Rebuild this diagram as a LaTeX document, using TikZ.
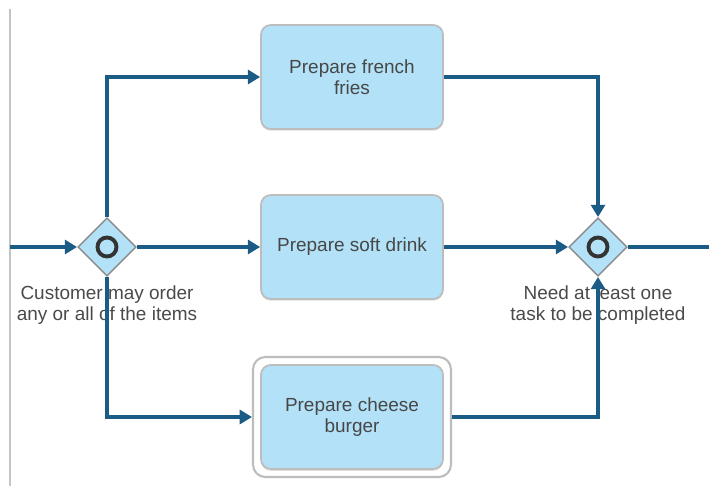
\documentclass[tikz,border=0pt]{standalone}
\usepackage{fontspec}
\setmainfont{Liberation Sans}
\usetikzlibrary{shapes.geometric,arrows.meta,positioning,shadows}

\definecolor{flowblue}{HTML}{1A5C86}
\definecolor{taskfill}{HTML}{B3E2F8}
\definecolor{taskline}{HTML}{BDBDBD}
\definecolor{gateline}{HTML}{8A8A8A}
\definecolor{notetext}{HTML}{4A4A4A}
\definecolor{edgegrey}{HTML}{C4C4C4}

\tikzset{
  task/.style={draw=taskline,line width=1pt,fill=taskfill,rounded corners=5.5pt,
    minimum width=3.64cm,minimum height=2.08cm,align=center,text=black!72,
    font=\fontsize{10.8}{12}\selectfont,
    drop shadow={shadow xshift=0pt,shadow yshift=-1pt,opacity=.25}},
  taskframe/.style={draw=taskline,line width=1.2pt,fill=white,rounded corners=7pt,
    minimum width=3.96cm,minimum height=2.4cm},
  gateway/.style={diamond,draw=gateline,line width=0.8pt,fill=taskfill,
    minimum width=1.17cm,minimum height=1.17cm,inner sep=0pt},
  gatering/.style={draw=black!80,line width=2.2pt},
  flow/.style={draw=flowblue,line width=1.8pt,-{Triangle[length=7pt,width=8pt]}},
  flowline/.style={draw=flowblue,line width=1.8pt},
  note/.style={align=center,text=notetext,font=\fontsize{10.8}{12}\selectfont}
}

\begin{document}
\begin{tikzpicture}[x=0.02cm,y=-0.02cm]
  \useasboundingbox (0,0) rectangle (709,486);
  \draw[edgegrey,line width=0.6pt] (10,9) -- (10,486);

  % gateways
  \node[gateway] (split) at (107,247) {};
  \node[gateway] (join) at (598,247) {};
  \draw[gatering] (split) circle[radius=0.19cm];
  \draw[gatering] (join) circle[radius=0.19cm];

  % tasks
  \node[task] (fries) at (352,77) {Prepare french\\fries};
  \node[task] (drink) at (352,247) {Prepare soft drink};
  \node[taskframe] (burgerframe) at (352,417) {};
  \node[task] (burger) at (352,417) {Prepare cheese\\burger};

  % notes under the gateways
  \node[note] (splitnote) at (107,305) {Customer may order\\any or all of the items};
  \node[note] (joinnote) at (598,305) {Need at least one\\task to be completed};

  % sequence flows
  \coordinate (start) at (10,247);
  \coordinate (finish) at (709,247);
  \draw[flow] (start) -- (split.west);
  \draw[flow] (split.north) |- (fries.west);
  \draw[flow] (split.east) -- (drink.west);
  \draw[flow] (split.south) |- (burgerframe.west);
  \draw[flow] (fries.east) -| (join.north);
  \draw[flow] (drink.east) -- (join.west);
  \draw[flow] (burgerframe.east) -| (join.south);
  \draw[flowline] (join.east) -- (finish);
\end{tikzpicture}
\end{document}
